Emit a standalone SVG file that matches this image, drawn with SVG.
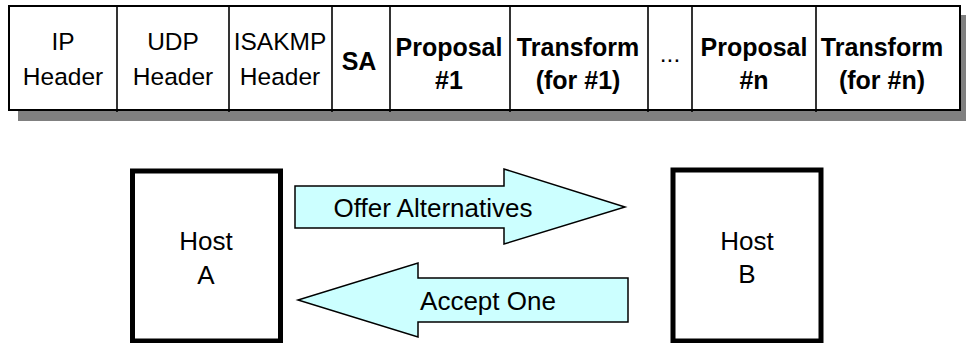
<svg xmlns="http://www.w3.org/2000/svg" width="966" height="343" viewBox="0 0 966 343">
<style>
  .t { font-family: "Liberation Sans", Arial, sans-serif; font-size: 24.5px; fill: #000; text-anchor: middle; }
  .b { font-weight: bold; font-size: 25px; }
  .h { font-size: 26px; }
  .div { stroke: #000; stroke-width: 1.6; }
  .host { fill: #fff; stroke: #000; stroke-width: 5; }
  .arrow { fill: #ccffff; stroke: #000; stroke-width: 1.5; stroke-linejoin: miter; }
</style>
<rect x="18" y="15" width="948" height="106" fill="#808080"/>
<g id="packet">
  <rect x="9" y="6" width="951" height="104" fill="#fff" stroke="#000" stroke-width="2"/>
  <line class="div" x1="117" y1="6" x2="117" y2="112"/>
  <line class="div" x1="229" y1="6" x2="229" y2="112"/>
  <line class="div" x1="332" y1="6" x2="332" y2="112"/>
  <line class="div" x1="390" y1="6" x2="390" y2="112"/>
  <line class="div" x1="510" y1="6" x2="510" y2="112"/>
  <line class="div" x1="648" y1="6" x2="648" y2="112"/>
  <line class="div" x1="692" y1="6" x2="692" y2="112"/>
  <line class="div" x1="816" y1="6" x2="816" y2="112"/>
</g>
<g id="ip-header"><text class="t" x="63" y="50">IP</text><text class="t" x="63" y="85">Header</text></g>
<g id="udp-header"><text class="t" x="173" y="50">UDP</text><text class="t" x="173" y="85">Header</text></g>
<g id="isakmp-header"><text class="t" x="280" y="50">ISAKMP</text><text class="t" x="280" y="85">Header</text></g>
<g id="sa"><text class="t b" x="359" y="70">SA</text></g>
<g id="proposal-1"><text class="t b" x="449" y="56">Proposal</text><text class="t b" x="449" y="89">#1</text></g>
<g id="transform-1"><text class="t b" x="578" y="56">Transform</text><text class="t b" x="578" y="89">(for #1)</text></g>
<g id="ellipsis"><text class="t" x="670" y="62">...</text></g>
<g id="proposal-n"><text class="t b" x="754" y="56">Proposal</text><text class="t b" x="754" y="89">#n</text></g>
<g id="transform-n"><text class="t b" x="882" y="56">Transform</text><text class="t b" x="882" y="89">(for #n)</text></g>

<g id="host-a">
  <rect class="host" x="132.5" y="171" width="148" height="170"/>
  <text class="t h" x="206" y="250">Host</text>
  <text class="t h" x="206" y="284">A</text>
</g>
<g id="host-b">
  <rect class="host" x="673" y="170" width="148" height="171"/>
  <text class="t h" x="747" y="250">Host</text>
  <text class="t h" x="747" y="283">B</text>
</g>
<g id="connectors">
  <path class="arrow" d="M295,186 L504,186 L504,169 L625,207 L504,244 L504,228 L295,228 Z"/>
  <text class="t h" x="433" y="217">Offer Alternatives</text>
  <path class="arrow" d="M628,278 L418,278 L418,263 L298,300 L418,337 L418,322 L628,322 Z"/>
  <text class="t h" x="488" y="310">Accept One</text>
</g>
</svg>
